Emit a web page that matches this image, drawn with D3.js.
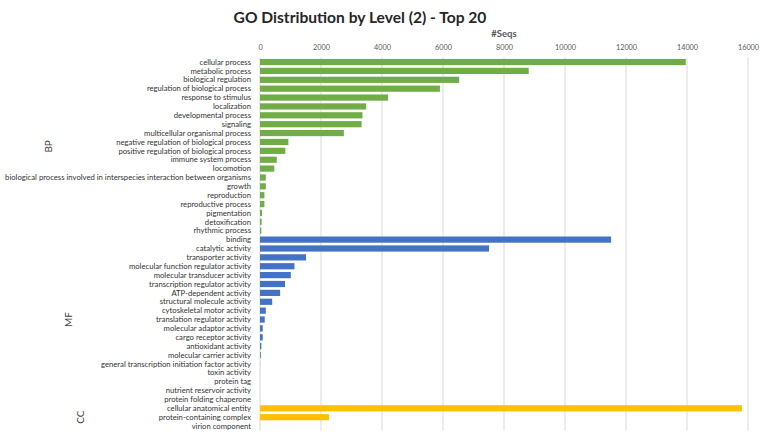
<!DOCTYPE html>
<html>
<head>
<meta charset="utf-8">
<script src="https://cdn.jsdelivr.net/npm/d3@7"></script>
<style>
  body { margin: 0; background: white; }
  text { font-family: Lato, "Open Sans", sans-serif; }
</style>
</head>
<body>
<div id="canvas"></div>
<script>
"use strict"

let drawingWidth = 760;
let drawingHeight = 434;

/* Data: GO terms by category, #Seqs */
let bpTerms = ["cellular process", "metabolic process", "biological regulation",
    "regulation of biological process", "response to stimulus", "localization",
    "developmental process", "signaling", "multicellular organismal process",
    "negative regulation of biological process", "positive regulation of biological process",
    "immune system process", "locomotion",
    "biological process involved in interspecies interaction between organisms",
    "growth", "reproduction", "reproductive process", "pigmentation", "detoxification",
    "rhythmic process"];
let bpValues = [13960, 8810, 6530, 5900, 4200, 3480, 3360, 3330, 2750, 930, 830,
    550, 470, 190, 190, 145, 145, 65, 55, 45];

let mfTerms = ["binding", "catalytic activity", "transporter activity",
    "molecular function regulator activity", "molecular transducer activity",
    "transcription regulator activity", "ATP-dependent activity",
    "structural molecule activity", "cytoskeletal motor activity",
    "translation regulator activity", "molecular adaptor activity",
    "cargo receptor activity", "antioxidant activity", "molecular carrier activity",
    "general transcription initiation factor activity", "toxin activity", "protein tag",
    "nutrient reservoir activity", "protein folding chaperone"];
let mfValues = [11510, 7510, 1510, 1130, 1010, 820, 660, 400, 190, 155, 90, 90,
    45, 25, 3, 2, 1, 1, 1];

let ccTerms = ["cellular anatomical entity", "protein-containing complex", "virion component"];
let ccValues = [15800, 2260, 3];

let groupNames = ["BP", "MF", "CC"];
let groupColors = ["#70AD47", "#4472C4", "#FFC000"];
let xTicks = [0, 2000, 4000, 6000, 8000, 10000, 12000, 14000, 16000];

// flatten into one row list so a single band scale handles all 42 rows
let rows = [];
[bpTerms, mfTerms, ccTerms].forEach(function (terms, g) {
    let vals = [bpValues, mfValues, ccValues][g];
    terms.forEach(function (t, i) {
        rows.push({ term: t, value: vals[i], group: g });
    });
});

let plotLeft = 260, plotRight = 748, plotTop = 57.6, plotBottom = 430.5;

let drawing = d3.select("#canvas")
    .append("svg")
    .attr("width", drawingWidth)
    .attr("height", drawingHeight);

let x = d3.scaleLinear()
    .domain([0, 16000])
    .range([plotLeft, plotRight]);

let y = d3.scaleBand()
    .domain(rows.map(function (d, i) { return i; }))
    .range([plotTop, plotBottom])
    .paddingInner(0.3)
    .paddingOuter(0.15);

/* title and axis title */
drawing.append("text")
    .attr("x", 360)
    .attr("y", 22.5)
    .attr("text-anchor", "middle")
    .attr("font-size", 15.6)
    .attr("font-weight", "bold")
    .attr("fill", "#262626")
    .text("GO Distribution by Level (2) - Top 20");

drawing.append("text")
    .attr("x", (plotLeft + plotRight) / 2)
    .attr("y", 37)
    .attr("text-anchor", "middle")
    .attr("font-size", 9.5)
    .attr("font-weight", "bold")
    .attr("fill", "#595959")
    .text("#Seqs");

/* gridlines */
drawing.append("g")
    .selectAll("line")
    .data(xTicks)
    .join("line")
    .attr("x1", function (d) { return x(d); })
    .attr("x2", function (d) { return x(d); })
    .attr("y1", plotTop)
    .attr("y2", plotBottom)
    .attr("stroke", "#d9d9d9")
    .attr("stroke-width", 1);

/* top axis, labels only */
let xAxis = drawing.append("g")
    .attr("transform", "translate(0," + (plotTop - 5) + ")")
    .call(d3.axisTop(x).tickValues(xTicks).tickFormat(d3.format("d")).tickSize(0));
xAxis.select(".domain").remove();
xAxis.selectAll("text")
    .attr("font-family", "Lato, sans-serif")
    .attr("font-size", 7.3)
    .attr("fill", "#595959");

/* bars */
drawing.append("g")
    .selectAll("rect")
    .data(rows)
    .join("rect")
    .attr("x", x(0))
    .attr("y", function (d, i) { return y(i); })
    .attr("width", function (d) { return x(d.value) - x(0); })
    .attr("height", y.bandwidth())
    .attr("fill", function (d) { return groupColors[d.group]; });

/* category labels */
drawing.append("g")
    .selectAll("text")
    .data(rows)
    .join("text")
    .attr("x", plotLeft - 9)
    .attr("y", function (d, i) { return y(i) + y.bandwidth() / 2; })
    .attr("dy", "0.35em")
    .attr("text-anchor", "end")
    .attr("font-size", 7.7)
    .attr("fill", "#333333")
    .text(function (d) { return d.term; });

/* rotated group labels, centred on each group */
let groupX = [48, 68, 80];
groupNames.forEach(function (name, g) {
    let idx = rows.map(function (d, i) { return d.group === g ? i : -1; })
        .filter(function (i) { return i >= 0; });
    let cy = (y(idx[0]) + y(idx[idx.length - 1]) + y.bandwidth()) / 2;
    drawing.append("text")
        .attr("transform", "translate(" + groupX[g] + "," + cy + ") rotate(-90)")
        .attr("text-anchor", "middle")
        .attr("dy", "0.35em")
        .attr("font-size", 10)
        .attr("fill", "#404040")
        .text(name);
});
</script>
</body>
</html>
